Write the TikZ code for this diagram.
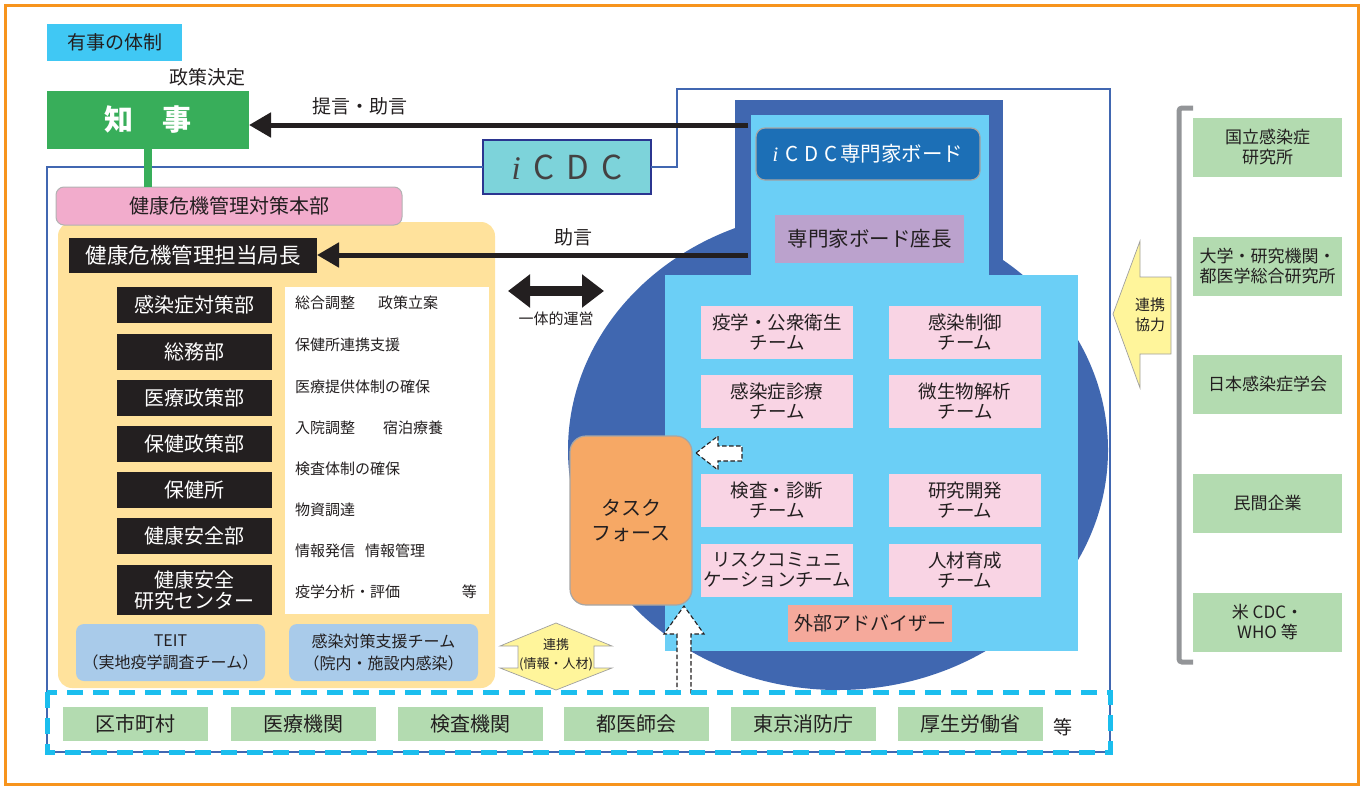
\documentclass[tikz,border=0pt]{standalone}
\usepackage{fontspec}
\setmainfont{Noto Sans CJK JP}
\newfontfamily\icdcfont{Liberation Serif}
\usepackage{tikz}
\usetikzlibrary{arrows.meta}
\definecolor{ink}{HTML}{231F20}
\definecolor{frameorange}{HTML}{F7941D}
\definecolor{tagcyan}{HTML}{40C8F4}
\definecolor{chijigreen}{HTML}{38AE5A}
\definecolor{lineblue}{HTML}{4167B1}
\definecolor{icdcfill}{HTML}{7DD3DA}
\definecolor{icdcline}{HTML}{2B3590}
\definecolor{honbupink}{HTML}{F2ACCC}
\definecolor{areayellow}{HTML}{FFE29C}
\definecolor{deepblue}{HTML}{4067B0}
\definecolor{skyblue}{HTML}{6BCFF6}
\definecolor{boardblue}{HTML}{1C6FB6}
\definecolor{chairpurple}{HTML}{BBA2CD}
\definecolor{teampink}{HTML}{F9D4E4}
\definecolor{advsalmon}{HTML}{F5A99B}
\definecolor{tforange}{HTML}{F6A865}
\definecolor{teitblue}{HTML}{A9CBEA}
\definecolor{linkyellow}{HTML}{FFF59B}
\definecolor{partgreen}{HTML}{B3DBB0}
\definecolor{bracketgray}{HTML}{939598}
\definecolor{dashcyan}{HTML}{1BBEEE}

\begin{document}
\begin{tikzpicture}[x=1pt,y=-1pt,
  box/.style={inner sep=0pt,outer sep=0pt,align=center,text=ink},
  blackbox/.style={box,fill=ink,text=white,minimum width=155pt,minimum height=36pt,font=\fontsize{20}{22}\selectfont},
  team/.style={box,fill=teampink,minimum width=152pt,minimum height=53pt,font=\fontsize{18.5}{20}\selectfont},
  partner/.style={box,fill=partgreen,minimum width=149pt,minimum height=59pt,font=\fontsize{17}{20}\selectfont},
  local/.style={box,fill=partgreen,minimum width=145pt,minimum height=34pt,font=\fontsize{20}{22}\selectfont},
  duty/.style={anchor=west,inner sep=0pt,text=ink,font=\fontsize{15}{17}\selectfont},
  lbl/.style={inner sep=0pt,align=center,text=ink,font=\fontsize{19}{21}\selectfont},
  advice/.style={line width=5pt,draw=ink,-{Triangle[length=22pt,width=24pt]}},
  blockarrow/.style={fill=white,draw=ink,dash pattern=on 4.5pt off 2.5pt,line width=1.1pt},
  linkarrow/.style={fill=linkyellow,draw=gray!75,line width=0.7pt}]

  \useasboundingbox (0,0) rectangle (1364,787);
  \draw[frameorange,line width=3pt] (5,5) rectangle (1358,784);

  \node[box,fill=tagcyan,minimum width=135pt,minimum height=37pt,font=\fontsize{19}{21}\selectfont] (tag) at (114.5,42.5) {有事の体制};
  \node[lbl] (kettei) at (207,77) {政策決定};
  \node[box,fill=chijigreen,text=white,minimum width=202pt,minimum height=58pt,font=\fontsize{29}{31}\selectfont\bfseries] (chiji) at (148,120) {知　事};

  \fill[deepblue] (838,450) ellipse [x radius=270, y radius=240];
  \fill[deepblue] (735,100) rectangle (1003,276);
  \fill[skyblue] (751,115) rectangle (989,290);
  \fill[skyblue] (665,275) rectangle (1078,651);

  \node[box,fill=icdcfill,draw=icdcline,line width=2.5pt,minimum width=168pt,minimum height=54pt,font=\fontsize{33}{35}\selectfont,text=ink!85] (icdc) at (567,167) {{\icdcfont\itshape i}\hspace{13pt}C\hspace{12pt}D\hspace{12pt}C};
  \draw[lineblue,line width=2.5pt] (icdc.west) -- (47,167) -- (47,752) -- (1110,752) -- (1110,89) -- (677,89) -- (677,167) -- (icdc.east);

  \fill[areayellow,rounded corners=14pt] (58,222) rectangle (495,688);
  \node[box,fill=honbupink,draw=gray!60,line width=1pt,rounded corners=8pt,minimum width=346pt,minimum height=38pt,font=\fontsize{20}{22}\selectfont] (honbu) at (229,206) {健康危機管理対策本部};
  \draw[chijigreen,line width=8pt] (chiji.south) -- (chiji.south |- honbu.north);
  \node[blackbox,minimum width=248pt,minimum height=35pt,font=\fontsize{21.5}{24}\selectfont] (kyokucho) at (193,255.5) {健康危機管理担当局長};

  \node[blackbox] (kansen) at (194.5,305) {感染症対策部};
  \node[blackbox] (somu) at (194.5,352) {総務部};
  \node[blackbox] (iryo) at (194.5,398) {医療政策部};
  \node[blackbox] (hoken) at (194.5,444) {保健政策部};
  \node[blackbox] (hokenjo) at (194.5,490) {保健所};
  \node[blackbox] (anzen) at (194.5,536) {健康安全部};
  \node[blackbox,minimum height=50pt,font=\fontsize{20}{21}\selectfont] (kenkyu) at (194.5,590) {健康安全\\研究センター};

  \node[box,fill=white,minimum width=204pt,minimum height=327pt] (panel) at (387,450.5) {};
  \node[duty] (d1) at (295,303) {総合調整\hspace{23pt}政策立案};
  \node[duty] (d2) at (295,345) {保健所連携支援};
  \node[duty] (d3) at (295,387) {医療提供体制の確保};
  \node[duty] (d4) at (295,428) {入院調整\hspace{28pt}宿泊療養};
  \node[duty] (d5) at (295,469) {検査体制の確保};
  \node[duty] (d6) at (295,510) {物資調達};
  \node[duty] (d7) at (295,551) {情報発信\hspace{10pt}情報管理};
  \node[duty] (d8) at (295,592) {疫学分析・評価};
  \node[duty,anchor=east] (d9) at (477,592) {等};

  \node[box,fill=teitblue,rounded corners=8pt,minimum width=189pt,minimum height=57pt,font=\fontsize{16}{22}\selectfont] (teit) at (170.5,652.5) {TEIT\\（実地疫学調査チーム）};
  \node[box,fill=teitblue,rounded corners=8pt,minimum width=189pt,minimum height=57pt,font=\fontsize{16}{22}\selectfont] (shien) at (383.5,652.5) {感染対策支援チーム\\（院内・施設内感染）};

  \node[box,fill=boardblue,draw=gray!70,line width=1.2pt,rounded corners=9pt,minimum width=224pt,minimum height=52pt,text=white,font=\fontsize{20.5}{22}\selectfont] (board) at (868,154) {{\icdcfont\itshape i}\hspace{7pt}C\hspace{6pt}D\hspace{6pt}C\hspace{3pt}専門家ボード};
  \node[box,fill=chairpurple,minimum width=189pt,minimum height=48pt,font=\fontsize{20.5}{22}\selectfont] (chair) at (869.5,239) {専門家ボード座長};

  \node[team] (ekigaku) at (777,332) {疫学・公衆衛生\\チーム};
  \node[team] (seigyo) at (965,332) {感染制御\\チーム};
  \node[team] (shinryo) at (777,401.5) {感染症診療\\チーム};
  \node[team] (biseibutsu) at (965,401.5) {微生物解析\\チーム};
  \node[team] (kensa) at (777,500.5) {検査・診断\\チーム};
  \node[team] (kaihatsu) at (965,500.5) {研究開発\\チーム};
  \node[team] (risk) at (777,570) {リスクコミュニ\\ケーションチーム};
  \node[team] (jinzai) at (965,570) {人材育成\\チーム};
  \node[box,fill=advsalmon,minimum width=164pt,minimum height=37pt,font=\fontsize{19}{21}\selectfont] (advisor) at (870,623) {外部アドバイザー};

  \node[box,fill=tforange,draw=gray!70,line width=1.2pt,rounded corners=16pt,minimum width=122pt,minimum height=169pt,font=\fontsize{20}{25}\selectfont] (taskforce) at (631,520.5) {タスク\\フォース};

  \coordinate (tl) at (748,125);
  \coordinate (al) at (748,255);
  \draw[advice] (tl) -- (chiji.east |- tl);
  \draw[advice] (al) -- (kyokucho.east |- al);
  \node[lbl] (teigen) at (360,106) {提言・助言};
  \node[lbl] (jogen) at (573,237) {助言};

  \coordinate (jl) at (508,291);
  \coordinate (jr) at (604,291);
  \draw[line width=10pt,ink,{Triangle[length=22pt,width=32pt]}-{Triangle[length=22pt,width=32pt]}] (jl) -- (jr);
  \node[lbl,font=\fontsize{15}{17}\selectfont] (ittai) at (556,319) {一体的運営};

  \draw[blockarrow] (696,453) -- (718,436) -- (718,446) -- (742,446) -- (742,461) -- (718,461) -- (718,470) -- cycle;
  \draw[blockarrow] (677,694) -- (677,634) -- (664,634) -- (684,606) -- (704,634) -- (691,634) -- (691,694);

  \draw[linkarrow] (556,623) -- (612,646) -- (594,646) -- (594,668) -- (612,668) -- (556,690) -- (500,668) -- (518,668) -- (518,646) -- (500,646) -- cycle;
  \node[lbl,font=\fontsize{13}{19}\selectfont] (renkei) at (556,655) {連携\\(情報・人材)};

  \draw[linkarrow] (1113,314) -- (1140,241) -- (1140,277) -- (1171,277) -- (1171,354) -- (1140,354) -- (1140,388) -- cycle;
  \node[lbl,font=\fontsize{15}{20}\selectfont] (kyoryoku) at (1150,315) {連携\\協力};

  \draw[bracketgray,line width=5pt,rounded corners=3pt] (1193,108) -- (1179,108) -- (1179,662) -- (1193,662);
  \node[partner] (niid) at (1267.5,147.5) {国立感染症\\研究所};
  \node[partner] (univ) at (1267.5,266.5) {大学・研究機関・\\都医学総合研究所};
  \node[partner] (gakkai) at (1267.5,384) {日本感染症学会};
  \node[partner] (kigyo) at (1267.5,503) {民間企業};
  \node[partner] (who) at (1267.5,622) {米 CDC・\\WHO 等};

  \draw[dashcyan,line width=5pt,dash pattern=on 16pt off 10pt] (47,692) rectangle (1110,752);
  \node[local] (kushi) at (135.5,724) {区市町村};
  \node[local] (kikan) at (303,724) {医療機関};
  \node[local] (kensakikan) at (470,724) {検査機関};
  \node[local] (ishikai) at (636,724) {都医師会};
  \node[local] (shobo) at (803,724) {東京消防庁};
  \node[local] (kosei) at (970,724) {厚生労働省};
  \node[lbl] (nado) at (1063,727) {等};
\end{tikzpicture}
\end{document}
